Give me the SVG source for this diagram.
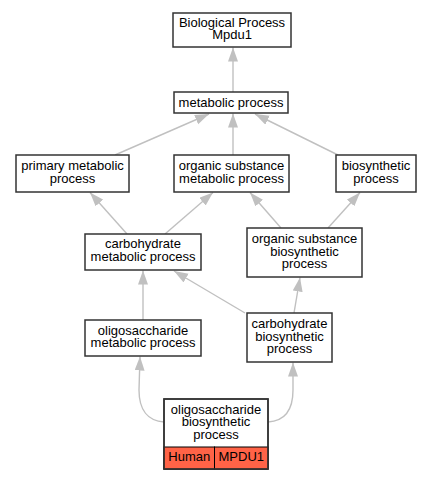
<svg xmlns="http://www.w3.org/2000/svg" width="432" height="480" viewBox="0 0 432 480">
<style>
.box{fill:#fff;stroke:#333;stroke-width:1.5}
.cell{fill:#ff6347;stroke:#000;stroke-width:1}
text{font-family:"Liberation Sans",Arial,sans-serif;font-size:13px;fill:#000;text-anchor:middle}
.e{fill:none;stroke:#c0c0c0;stroke-width:1.4;marker-end:url(#ah)}
</style>
<defs>
<marker id="ah" markerUnits="userSpaceOnUse" markerWidth="15" markerHeight="11" refX="14" refY="5" orient="auto" viewBox="0 0 15 11">
<path d="M0,0 L14,5 L0,10 z" fill="#c0c0c0"/>
</marker>
</defs>
<rect width="432" height="480" fill="#fff"/>
<g id="edges">
<path class="e" d="M233,92 L233,47.5"/>
<path class="e" d="M115,155 L209,114"/>
<path class="e" d="M233,155 L233,113.5"/>
<path class="e" d="M338,155 L255,114"/>
<path class="e" d="M127,234 L90,192.5"/>
<path class="e" d="M165,234 L213,192.5"/>
<path class="e" d="M281,228 L250,192.5"/>
<path class="e" d="M328,228 L360,192.5"/>
<path class="e" d="M143,320 L143,270.5"/>
<path class="e" d="M245,313 L174,271"/>
<path class="e" d="M294,313 L300,277.5"/>
<path class="e" d="M164,422 C148,421 139,410 139,390 L140,356.5"/>
<path class="e" d="M268,422 C285,421 293,410 293,390 L293,362.5"/>
</g>
<g id="n_mpdu1">
<rect class="box" x="173" y="13" width="118" height="34"/>
<text x="232" y="26.5">Biological Process</text>
<text x="232" y="39">Mpdu1</text>
</g>
<g id="n_metabolic">
<rect class="box" x="174" y="92" width="114" height="21"/>
<text x="231" y="107">metabolic process</text>
</g>
<g id="n_primary">
<rect class="box" x="16" y="155" width="113" height="37"/>
<text x="72.5" y="170">primary metabolic</text>
<text x="72.5" y="182.5">process</text>
</g>
<g id="n_organic_metabolic">
<rect class="box" x="174" y="155" width="115" height="37"/>
<text x="231.5" y="170">organic substance</text>
<text x="231.5" y="182.5">metabolic process</text>
</g>
<g id="n_biosynthetic">
<rect class="box" x="336" y="155" width="80" height="37"/>
<text x="376" y="170">biosynthetic</text>
<text x="376" y="182.5">process</text>
</g>
<g id="n_carb_metabolic">
<rect class="box" x="85" y="234" width="116" height="36"/>
<text x="143" y="248.3">carbohydrate</text>
<text x="143" y="260.8">metabolic process</text>
</g>
<g id="n_organic_biosynthetic">
<rect class="box" x="247" y="228" width="115" height="49"/>
<text x="304.5" y="243.3">organic substance</text>
<text x="304.5" y="255.8">biosynthetic</text>
<text x="304.5" y="268.3">process</text>
</g>
<g id="n_oligo_metabolic">
<rect class="box" x="85" y="320" width="116" height="36"/>
<text x="143" y="334.5">oligosaccharide</text>
<text x="143" y="347">metabolic process</text>
</g>
<g id="n_carb_biosynthetic">
<rect class="box" x="247" y="313" width="85" height="49"/>
<text x="289.5" y="328.3">carbohydrate</text>
<text x="289.5" y="340.8">biosynthetic</text>
<text x="289.5" y="353.3">process</text>
</g>
<g id="n_oligo_biosynthetic">
<rect class="box" x="164" y="399" width="104" height="70"/>
<rect class="cell" x="164" y="447" width="50.5" height="22"/>
<rect class="cell" x="214.5" y="447" width="53.5" height="22"/>
<rect x="164" y="399" width="104" height="70" fill="none" stroke="#333" stroke-width="1.5"/>
<text x="216" y="413.8">oligosaccharide</text>
<text x="216" y="426.3">biosynthetic</text>
<text x="216" y="438.8">process</text>
<text x="189.3" y="460.5">Human</text>
<text x="241.3" y="460.5">MPDU1</text>
</g>
</svg>
